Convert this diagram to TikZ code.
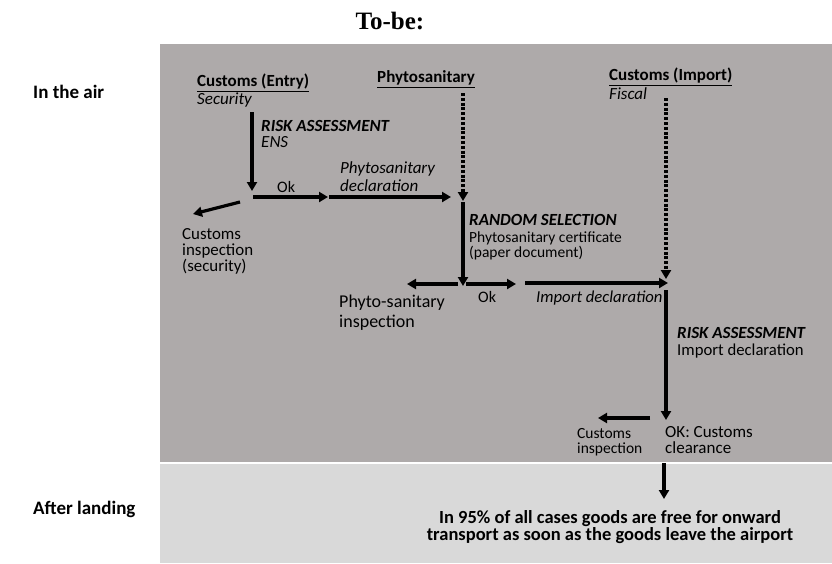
\documentclass[tikz,border=0pt]{standalone}
\usepackage{fontspec}
\setmainfont{Carlito}
\newfontfamily\titlefont{Liberation Serif}
\usetikzlibrary{arrows.meta}
\definecolor{darkpanel}{HTML}{AEAAAA}
\definecolor{lightpanel}{HTML}{D9D9D9}
\begin{document}
\begin{tikzpicture}[x=1pt,y=-1pt,
  txt/.style={anchor=west,inner sep=0pt,font=\fontsize{16.5}{16}\selectfont,align=left},
  hdr/.style={anchor=west,inner sep=0pt,font=\fontsize{17}{17}\selectfont\bfseries},
  ital/.style={anchor=west,inner sep=0pt,font=\fontsize{17}{17}\selectfont\itshape,align=left},
  lbl/.style={anchor=west,inner sep=0pt,font=\fontsize{19}{20}\selectfont\bfseries},
  arr/.style={line width=3.2pt,-{Triangle[length=9pt,width=10pt]}},
  dotarr/.style={line width=3.2pt,dash pattern=on 3pt off 1.8pt,-{Triangle[length=9pt,width=10pt]}}]
\useasboundingbox (0,0) rectangle (832,563);
\fill[darkpanel] (160,44) rectangle (832,462);
\fill[lightpanel] (160,463.5) rectangle (832,563);
% title and row labels
\node[inner sep=0pt,font=\titlefont\fontsize{25}{28}\selectfont\bfseries] (title) at (390,21) {To-be:};
\node[lbl] (air) at (33,92) {In the air};
\node[lbl,font=\fontsize{19}{20}\selectfont\bfseries] (land) at (33,509) {After landing};
% column 1
\node[hdr] (ce) at (197,83) {\underline{Customs (Entry)}};
\node[ital] (sec) at (197,100) {Security};
\coordinate (a1s) at (252,112);
\coordinate (a1e) at (252,191);
\node[txt,font=\fontsize{17}{15.5}\selectfont] (ra1) at (261,134) {\textbf{\textit{RISK ASSESSMENT}}\\\textit{ENS}};
\coordinate (j1) at (253,197);
\coordinate (ok1e) at (328,197);
\coordinate (pd1s) at (329,197);
\coordinate (pd1e) at (451,197);
\node[txt,font=\fontsize{16}{16}\selectfont] (ok1) at (277,187) {Ok};
\node[ital,font=\fontsize{17}{18}\selectfont\itshape] (pdec) at (340,177) {Phytosanitary\\declaration};
\coordinate (d1s) at (240,202);
\coordinate (d1e) at (193,214);
\node[txt,font=\fontsize{16.9}{16}\selectfont] (cis) at (182,251) {Customs\\inspection\\(security)};
\draw[arr] (a1s) -- (a1e);
\draw[arr] (j1) -- (ok1e);
\draw[arr] (pd1s) -- (pd1e);
\draw[arr] (d1s) -- (d1e);
% column 2
\node[hdr] (ph) at (377,79) {\underline{Phytosanitary}};
\coordinate (p2s) at (463,93);
\coordinate (p2e) at (463,201);
\coordinate (s2s) at (463,202);
\coordinate (s2e) at (463,286);
\node[txt,font=\fontsize{17}{17}\selectfont\bfseries\itshape] (rs) at (469,220) {RANDOM SELECTION};
\node[txt,font=\fontsize{15.5}{15.5}\selectfont] (rsd) at (469,246) {Phytosanitary certificate\\(paper document)};
\coordinate (l2s) at (458,284);
\coordinate (l2e) at (407,284);
\coordinate (r2s) at (466,284);
\coordinate (r2e) at (516,284);
\node[txt,font=\fontsize{18}{20}\selectfont] (psi) at (339,313) {Phyto-sanitary\\inspection};
\node[txt,font=\fontsize{16}{16}\selectfont] (ok2) at (478,297) {Ok};
\coordinate (id2s) at (525,283);
\coordinate (id2e) at (668,283);
\node[ital,font=\fontsize{16.7}{17}\selectfont\itshape] (idec) at (536,298) {Import declaration};
\draw[dotarr] (p2s) -- (p2e);
\draw[arr] (s2s) -- (s2e);
\draw[arr] (l2s) -- (l2e);
\draw[arr] (r2s) -- (r2e);
\draw[arr] (id2s) -- (id2e);
% column 3
\node[hdr] (ci) at (609,77) {\underline{Customs (Import)}};
\node[ital] (fis) at (609,94) {Fiscal};
\coordinate (p3s) at (666,98);
\coordinate (p3e) at (666,279);
\coordinate (s3s) at (666,290);
\coordinate (s3e) at (666,420);
\node[txt,font=\fontsize{17}{17}\selectfont\bfseries\itshape] (ra3) at (677,333) {RISK ASSESSMENT};
\node[txt,font=\fontsize{16.7}{17}\selectfont] (ra3d) at (677,351) {Import declaration};
\coordinate (l3s) at (650,418);
\coordinate (l3e) at (598,418);
\node[txt,font=\fontsize{15.5}{14.5}\selectfont] (cin) at (577,442) {Customs\\inspection};
\node[txt,font=\fontsize{17}{15.5}\selectfont] (okc) at (665,440) {OK: Customs\\clearance};
\coordinate (b3s) at (664,463);
\coordinate (b3e) at (664,499);
\node[inner sep=0pt,align=center,font=\fontsize{18.5}{17.5}\selectfont\bfseries] (free) at (610,527) {In 95\% of all cases goods are free for onward\\transport as soon as the goods leave the airport};
\draw[dotarr] (p3s) -- (p3e);
\draw[arr] (s3s) -- (s3e);
\draw[arr] (l3s) -- (l3e);
\draw[arr] (b3s) -- (b3e);
\end{tikzpicture}
\end{document}
